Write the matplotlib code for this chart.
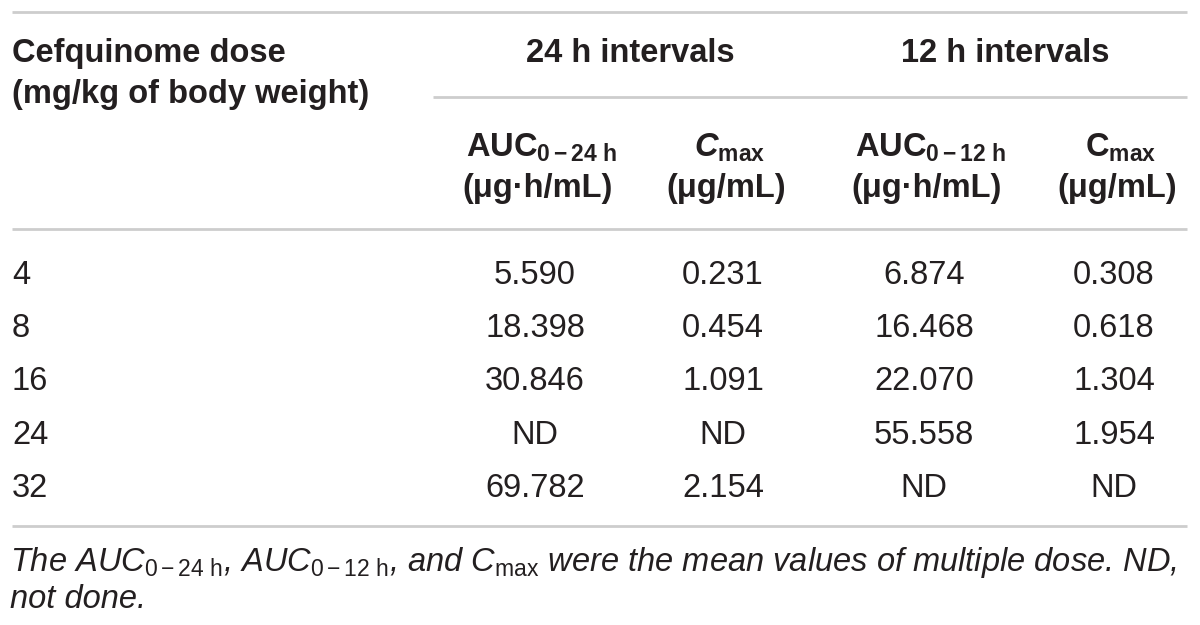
import matplotlib
matplotlib.use("Agg")
import matplotlib.pyplot as plt

plt.rcParams['font.family'] = ['Liberation Sans', 'DejaVu Sans']
plt.rcParams['mathtext.fontset'] = 'custom'
plt.rcParams['mathtext.rm'] = 'Liberation Sans'
plt.rcParams['mathtext.it'] = 'Liberation Sans:italic'
plt.rcParams['mathtext.bf'] = 'Liberation Sans:bold'
plt.rcParams['mathtext.bfit'] = 'Liberation Sans:bold:italic'
plt.rcParams['mathtext.sf'] = 'Liberation Sans'

# ---- data ----
doses = ["4", "8", "16", "24", "32"]
auc_24h = ["5.590", "18.398", "30.846", "ND", "69.782"]
cmax_24h = ["0.231", "0.454", "1.091", "ND", "2.154"]
auc_12h = ["6.874", "16.468", "22.070", "55.558", "ND"]
cmax_12h = ["0.308", "0.618", "1.304", "1.954", "ND"]

row_header = ["Cefquinome dose", "(mg/kg of body weight)"]
group_headers = ["24 h intervals", "12 h intervals"]
col_headers = [r"$\mathbf{AUC}_{\mathbf{0-24\ h}}$", r"$\mathbfit{C}_{\mathbf{max}}$",
               r"$\mathbf{AUC}_{\mathbf{0-12\ h}}$", r"$\mathbf{C}_{\mathbf{max}}$"]
col_units = ["(μg·h/mL)", "(μg/mL)", "(μg·h/mL)", "(μg/mL)"]
footnote = [r"The $\mathit{AUC}_{\mathrm{0-24\ h}}$, $\mathit{AUC}_{\mathrm{0-12\ h}}$, and C$_{\mathrm{max}}$ were the mean values of multiple dose. ND,",
            "not done."]

# ---- layout ----
W, H = 1200, 625
fig = plt.figure(figsize=(12, 6.25), dpi=100)
ax = fig.add_axes([0, 0, 1, 1])
ax.set_xlim(0, W)
ax.set_ylim(H, 0)
ax.axis('off')

TXT = '#231f20'
LINE = '#cdcdcd'
FS = 23.5

col_x = [538, 726, 927, 1117]
group_x = [630, 1005]
row_base = [284, 337, 390, 444, 497]

# rules
ax.hlines([12, 229, 526], 12, 1187, color=LINE, lw=2.0)
ax.hlines(97, 433, 1187, color=LINE, lw=2.0)

# header
ax.text(12, 62, row_header[0], fontsize=FS, fontweight='bold', color=TXT, va='baseline', ha='left')
ax.text(12, 103, row_header[1], fontsize=FS, fontweight='bold', color=TXT, va='baseline', ha='left')
for gx, g in zip(group_x, group_headers):
    ax.text(gx, 62, g, fontsize=FS, fontweight='bold', color=TXT, va='baseline', ha='center')
for cx, h, u in zip(col_x, col_headers, col_units):
    ax.text(cx + 4, 157, h, fontsize=FS, color=TXT, va='baseline', ha='center')
    ax.text(cx, 197, u, fontsize=FS, fontweight='bold', color=TXT, va='baseline', ha='center')

# body
cols = [auc_24h, cmax_24h, auc_12h, cmax_12h]
for i, y in enumerate(row_base):
    ax.text(12, y, doses[i], fontsize=FS, color=TXT, va='baseline', ha='left')
    for cx, col in zip(col_x, cols):
        ax.text(cx - 3, y, col[i], fontsize=FS, color=TXT, va='baseline', ha='center')

# footnote
ax.text(10, 571, footnote[0], fontsize=FS, style='italic', color=TXT, va='baseline', ha='left')
ax.text(10, 608, footnote[1], fontsize=FS, style='italic', color=TXT, va='baseline', ha='left')

fig.savefig('out.png', dpi=100)
